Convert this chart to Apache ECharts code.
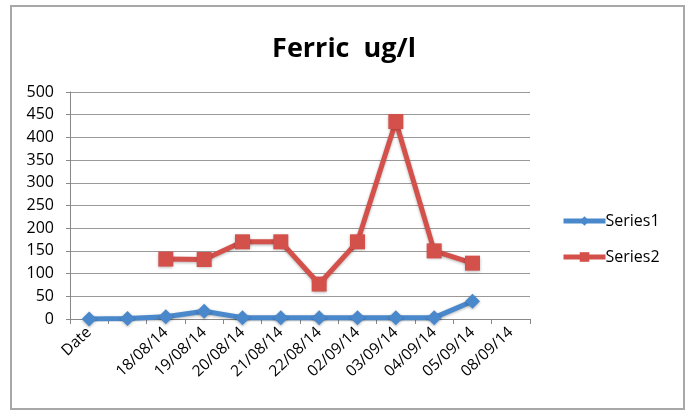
<!DOCTYPE html>
<html><head><meta charset="utf-8">
<script src="https://cdn.jsdelivr.net/npm/echarts@6/dist/echarts.min.js"></script>
<style>html,body{margin:0;padding:0;background:#fff}#c{width:688px;height:410px}</style>
</head><body><div id="c"></div>
<script>
var categories = ['Date', '', '18/08/14', '19/08/14', '20/08/14', '21/08/14', '22/08/14', '02/09/14', '03/09/14', '04/09/14', '05/09/14', '08/09/14'];
var series1 = [0, 1, 5, 17, 3, 3, 3, 3, 3, 3, 39, null];
var series2 = [null, null, 132, 131, 170, 170, 77, 170, 435, 150, 123, null];
var yTicks = [0, 50, 100, 150, 200, 250, 300, 350, 400, 450, 500];

var chart = echarts.init(document.getElementById('c'));
chart.setOption({
  animation: false,
  backgroundColor: '#fff',
  graphic: [{type: 'rect', shape: {x: 11, y: 6, width: 673, height: 403}, style: {fill: 'none', stroke: '#a8a8a8', lineWidth: 2}, silent: true}],
  title: {text: 'Ferric  ug/l', left: 'center', top: 31, textStyle: {fontFamily: 'Open Sans', fontWeight: 'bold', fontSize: 27, color: '#000'}},
  grid: {left: 70, right: 158, top: 92, bottom: 91, containLabel: false},
  legend: {orient: 'vertical', left: 556, top: 208, itemGap: 20, itemWidth: 42, itemHeight: 12,
    lineStyle: {width: 5},
    textStyle: {fontFamily: 'Open Sans', fontSize: 16, color: '#000', padding: [0,0,0,-5]}, data: ['Series1', 'Series2']},
  xAxis: {type: 'category', data: categories, boundaryGap: true,
    axisLine: {lineStyle: {color: '#888', width: 1}},
    axisTick: {show: true, length: 5, lineStyle: {color: '#888'}, alignWithLabel: false},
    axisLabel: {rotate: 43, interval: 0, fontFamily: 'Open Sans', fontSize: 15.5, color: '#000', margin: 11}},
  yAxis: {type: 'value', min: yTicks[0], max: yTicks[yTicks.length-1], interval: 50,
    axisLine: {show: true, lineStyle: {color: '#888'}},
    axisTick: {show: true, length: 4, lineStyle: {color: '#888'}},
    splitLine: {lineStyle: {color: '#999', width: 1}},
    axisLabel: {fontFamily: 'Open Sans', fontSize: 16, color: '#000', margin: 16}},
  series: [
    {name: 'Series1', type: 'line', data: series1, symbol: 'diamond', symbolSize: 15, connectNulls: false,
      lineStyle: {color: '#4a88cc', width: 5, shadowBlur: 3, shadowColor: 'rgba(0,0,0,0.3)', shadowOffsetY: 1},
      itemStyle: {color: '#4a88cc', shadowBlur: 3, shadowColor: 'rgba(0,0,0,0.3)', shadowOffsetY: 1}},
    {name: 'Series2', type: 'line', data: series2, symbol: 'rect', symbolSize: 15, connectNulls: false,
      lineStyle: {color: '#d4504b', width: 5, shadowBlur: 3, shadowColor: 'rgba(0,0,0,0.3)', shadowOffsetY: 1},
      itemStyle: {color: '#d4504b', shadowBlur: 3, shadowColor: 'rgba(0,0,0,0.3)', shadowOffsetY: 1}}
  ]
});
</script></body></html>
